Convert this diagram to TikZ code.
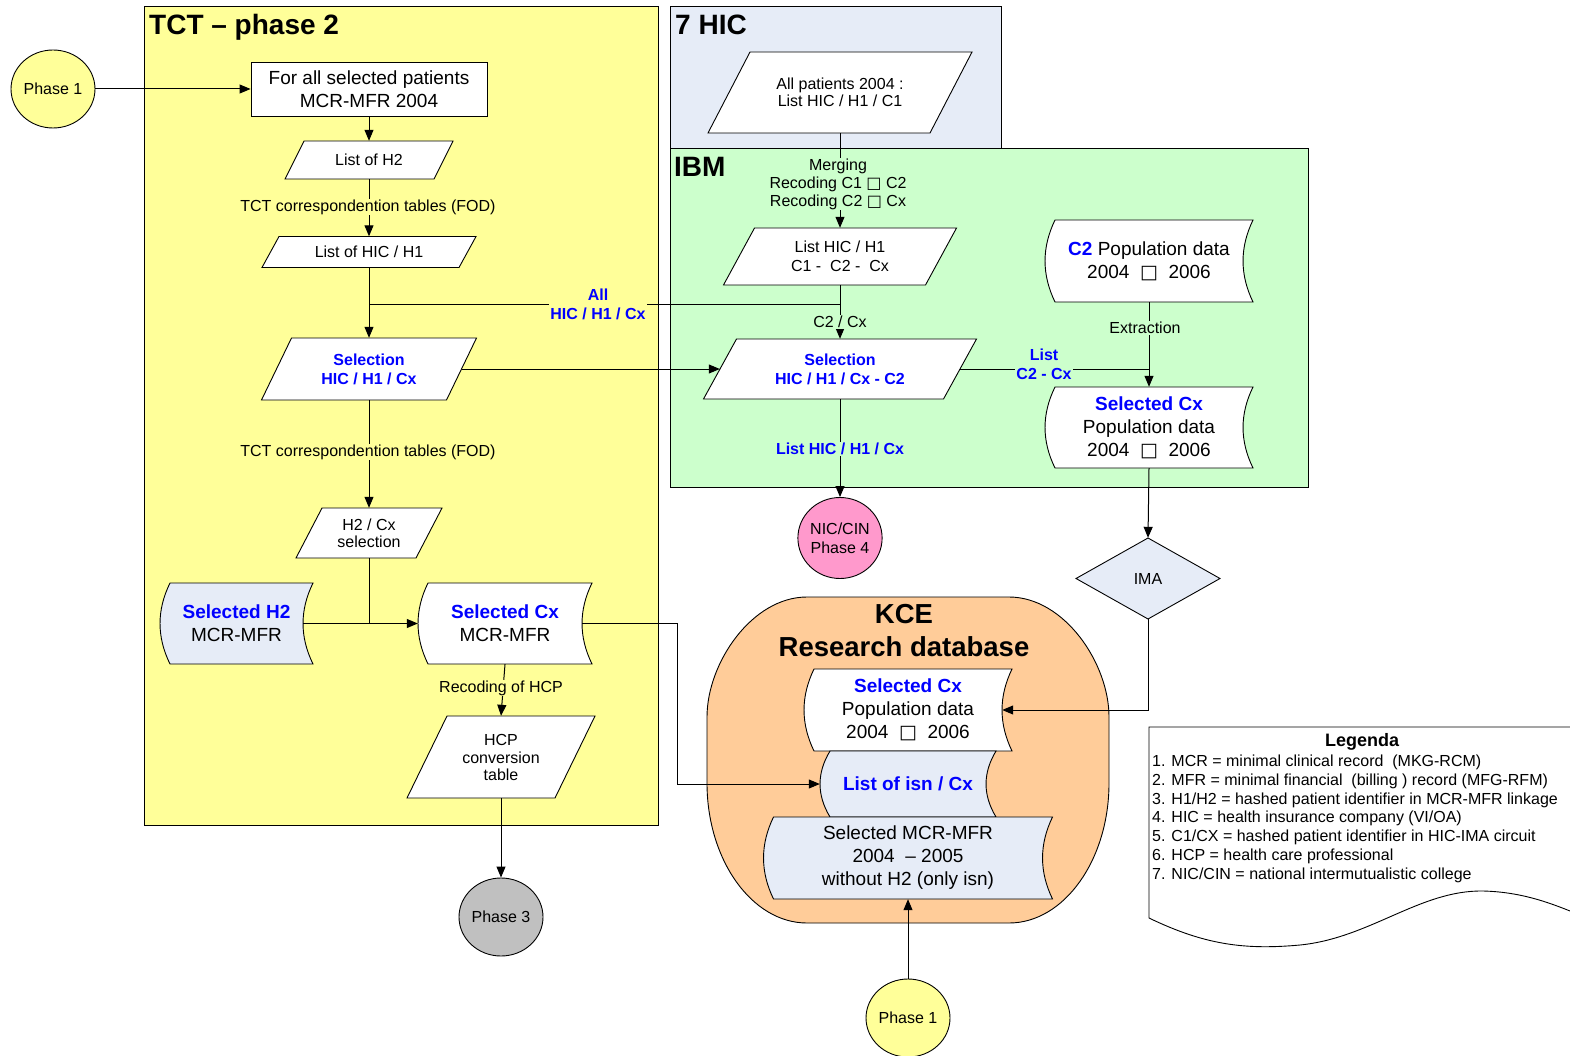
\documentclass[tikz,border=0pt]{standalone}
\usepackage{fontspec}
\setmainfont{Liberation Sans}
\newfontfamily\dejavu{DejaVu Sans}
\usetikzlibrary{arrows.meta,shapes.geometric}
\definecolor{tctyellow}{HTML}{FFFF99}
\definecolor{hicblue}{HTML}{E6ECF7}
\definecolor{ibmgreen}{HTML}{CCFFCC}
\definecolor{nicpink}{HTML}{FF99CC}
\definecolor{kcepeach}{HTML}{FFCC99}
\definecolor{phgray}{HTML}{C0C0C0}
\definecolor{txtblue}{HTML}{0000FF}
\newcommand\sqr{{\dejavu □}}
\newcommand\bl[1]{{\bfseries\color{txtblue}#1}}
\tikzset{
 shapeline/.style={draw=black, line width=0.9pt, fill=white},
 anchorbox/.style={inner sep=0pt, align=center, text=black},
 box/.style={draw=black, line width=1pt},
 arr/.style={line width=1pt, -{Triangle[length=11pt,width=9pt]}},
 conn/.style={line width=1pt},
 small/.style={font=\fontsize{16}{19}\selectfont},
 med/.style={font=\fontsize{19}{23}\selectfont},
 title/.style={font=\fontsize{28}{30}\selectfont\bfseries, anchor=base west, inner sep=0pt},
 lbl/.style={small, align=center, inner sep=1pt},
 bluelbl/.style={lbl, font=\fontsize{16}{19}\selectfont\bfseries, text=txtblue},
 circ/.style={ellipse, draw=black, line width=0.9pt, minimum width=84pt, minimum height=78pt, inner sep=0pt, small, align=center},
 legline/.style={font=\fontsize{16}{19}\selectfont, anchor=base west, inner sep=0pt},
}
% parallelogram: opts, name, cx, cy, total width, height, slant, text
\newcommand\para[8][]{%
 \draw[shapeline,#1] ({#3-#5/2+#7},{#4-#6/2}) -- ({#3+#5/2},{#4-#6/2}) -- ({#3+#5/2-#7},{#4+#6/2}) -- ({#3-#5/2},{#4+#6/2}) -- cycle;
 \node[anchorbox, small, minimum width={#5-#7}, minimum height=#6] (#2) at (#3,#4) {#8};
}
% stored data: opts, name, cx, cy, width, height, text
\newcommand\sdata[7][]{%
 \draw[shapeline,#1] ({#3-#5/2+10},{#4-#6/2}) -- ({#3+#5/2},{#4-#6/2})
   .. controls ({#3+#5/2-13.3},{#4-#6/6}) and ({#3+#5/2-13.3},{#4+#6/6}) .. ({#3+#5/2},{#4+#6/2})
   -- ({#3-#5/2+10},{#4+#6/2})
   .. controls ({#3-#5/2-3.3},{#4+#6/6}) and ({#3-#5/2-3.3},{#4-#6/6}) .. ({#3-#5/2+10},{#4-#6/2}) -- cycle;
 \node[anchorbox, med, minimum width=#5, minimum height=#6] (#2) at (#3,#4) {#7};
}
\begin{document}
\begin{tikzpicture}[x=1pt,y=-1pt]
\useasboundingbox (0,0) rectangle (1570,1056);
% containers
\draw[box, fill=tctyellow] (144,7) rectangle (658,825);
\draw[box, fill=hicblue] (670,7) rectangle (1001,149);
\draw[box, fill=ibmgreen] (670,149) rectangle (1308,487);
\node[title] (tcttitle) at (149,35) {TCT – phase 2};
\node[title] (hictitle) at (675,35) {7 HIC};
\node[title] (ibmtitle) at (674,177) {IBM};

% KCE database
\draw[line width=0.9pt, fill=kcepeach] (807,597) -- (1009,597)
  .. controls (1064,597) and (1109,663) .. (1109,717) -- (1109,783)
  .. controls (1109,860) and (1064,923) .. (1009,923) -- (807,923)
  .. controls (752,923) and (707,860) .. (707,783) -- (707,717)
  .. controls (707,663) and (752,597) .. (807,597) -- cycle;
\node[font=\fontsize{27.5}{33}\selectfont\bfseries, align=center, inner sep=0pt] (kcetitle) at (904,631) {KCE\\Research database};

% TCT nodes
\node[circ, fill=tctyellow] (ph1) at (53,89) {Phase 1};
\node[draw=black, line width=0.9pt, fill=white, minimum width=236pt, minimum height=54pt, med, align=center, inner sep=0pt] (start) at (369,89) {For all selected patients\\MCR-MFR 2004};
\para{lh2}{369}{160}{168}{38}{19}{List of H2}
\para{lhic}{369}{252}{214}{31}{17}{List of HIC / H1}
\para{tctsel}{369}{369}{215}{62}{30}{\bl{Selection}\\\bl{HIC / H1 / Cx}}
\para{h2sel}{369}{533}{146}{50}{26}{H2 / Cx\\[-2pt]selection}
\sdata[fill=hicblue]{selh2}{236.5}{623.5}{153}{81}{\bl{Selected H2}\\MCR-MFR}
\sdata{tctcx}{505}{623.5}{174}{81}{\bl{Selected Cx}\\MCR-MFR}
\para{hcp}{501}{757}{188}{82}{40}{HCP\\[-1pt]conversion\\[-2pt]table}
\node[circ, fill=phgray] (ph3) at (501,917) {Phase 3};

% HIC / IBM nodes
\para{allp}{840}{92.5}{264}{81}{42}{All patients 2004 :\\[-2pt]List HIC / H1 / C1}
\para{ibmlist}{840}{256.5}{233}{57}{31}{List HIC / H1\\C1 - \ C2 - \ Cx}
\para{ibmsel}{840}{369}{273}{60}{33}{\bl{Selection}\\\bl{HIC / H1 / Cx - C2}}
\sdata{c2pop}{1149}{261}{208}{82}{\bl{C2} Population data\\2004 \ \sqr\ \ 2006}
\sdata{ibmcx}{1149}{427.5}{208}{81}{\bl{Selected Cx}\\Population data\\2004 \ \sqr\ \ 2006}
\node[circ, fill=nicpink, minimum height=81pt] (nic) at (840,538) {NIC/CIN\\Phase 4};
\draw[shapeline, fill=hicblue] (1148,538) -- (1220,578.5) -- (1148,619) -- (1076,578.5) -- cycle;
\node[anchorbox, small, minimum width=144pt, minimum height=81pt] (ima) at (1148,578.5) {IMA};

% KCE content
\sdata{kcecx}{908}{710}{208}{82}{\bl{Selected Cx}\\Population data\\2004 \ \sqr\ \ 2006}
\sdata[fill=hicblue]{kcelist}{908}{784}{176}{66}{\bl{List of isn / Cx}}
\sdata[fill=hicblue]{kcemfr}{908}{858}{289}{82}{Selected MCR-MFR\\2004 \ – 2005\\without H2 (only isn)}
\node[circ, fill=tctyellow] (ph1b) at (908,1018) {Phase 1};

% connectors
\draw[arr] (ph1.east) -- (start.west);
\draw[arr] (start.south) -- (lh2.north);
\draw[arr] (lh2.south) -- (lhic.north);
\draw[arr] (lhic.south) -- (tctsel.north);
\coordinate (jn) at (369,305);
\draw[conn] (ibmlist.south) |- (jn);
\draw[arr] (ibmlist.south) -- (ibmsel.north);
\draw[arr] (tctsel.east) -- (ibmsel.west);
\draw[arr] (tctsel.south) -- (h2sel.north);
\draw[arr] (h2sel.south) |- (tctcx.west);
\draw[conn] ([xshift=-10pt]selh2.east) -- (h2sel.south |- selh2.east);
\draw[arr] (tctcx.south) -- (hcp.north);
\draw[arr] (hcp.south) -- (ph3.north);
\coordinate (kbend) at (677,700);
\draw[arr] ([xshift=-10pt]tctcx.east) -| (kbend) |- (kcelist.west);
\draw[arr] (allp.south) -- (ibmlist.north);
\draw[arr] (c2pop.south) -- (ibmcx.north);
\draw[conn] (ibmsel.east) -- (ibmcx.north |- ibmsel.east);
\draw[arr] (ibmsel.south) -- (nic.north);
\draw[arr] (ibmcx.south) -- (ima.north);
\draw[arr] (ima.south) |- ([xshift=-10pt]kcecx.east);
\draw[arr] (ph1b.north) -- (kcemfr.south);

% connector labels
\node[lbl, fill=tctyellow] (l1) at (368,207) {TCT correspondention tables (FOD)};
\node[lbl, fill=tctyellow] (l2) at (368,452) {TCT correspondention tables (FOD)};
\node[lbl, fill=tctyellow] (l3) at (501,688) {Recoding of HCP};
\node[bluelbl, fill=tctyellow] (l4) at (598,304) {All\\HIC / H1 / Cx};
\node[lbl, fill=ibmgreen, font=\fontsize{16}{18}\selectfont] (l5) at (838,184) {Merging\\Recoding C1 \sqr\ C2\\Recoding C2 \sqr\ Cx};
\node[lbl, fill=ibmgreen] (l6) at (840,322) {C2 / Cx};
\node[bluelbl, fill=ibmgreen] (l7) at (840,449) {List HIC / H1 / Cx};
\node[lbl, fill=ibmgreen] (l8) at (1145,328) {Extraction};
\node[bluelbl, fill=ibmgreen] (l9) at (1044,364) {List\\C2 - Cx};

% legend
\draw[line width=0.9pt] (1580,727) -- (1149,727) -- (1149,918)
  .. controls (1205,945) and (1245,950) .. (1300,945)
  .. controls (1370,938) and (1420,890) .. (1483,891)
  .. controls (1525,892) and (1555,905) .. (1580,915);
\node[font=\fontsize{18}{20}\selectfont\bfseries, inner sep=0pt] (legtitle) at (1362,742) {Legenda};
\node[legline] (leg1) at (1152,766.5) {1. MCR = minimal clinical record \ (MKG-RCM)};
\node[legline] (leg2) at (1152,785.5) {2. MFR = minimal financial \ (billing ) record (MFG-RFM)};
\node[legline] (leg3) at (1152,804.5) {3. H1/H2 = hashed patient identifier in MCR-MFR linkage};
\node[legline] (leg4) at (1152,822.5) {4. HIC = health insurance company (VI/OA)};
\node[legline] (leg5) at (1152,841.5) {5. C1/CX = hashed patient identifier in HIC-IMA circuit};
\node[legline] (leg6) at (1152,860.5) {6. HCP = health care professional};
\node[legline] (leg7) at (1152,879.5) {7. NIC/CIN = national intermutualistic college};
\end{tikzpicture}
\end{document}
